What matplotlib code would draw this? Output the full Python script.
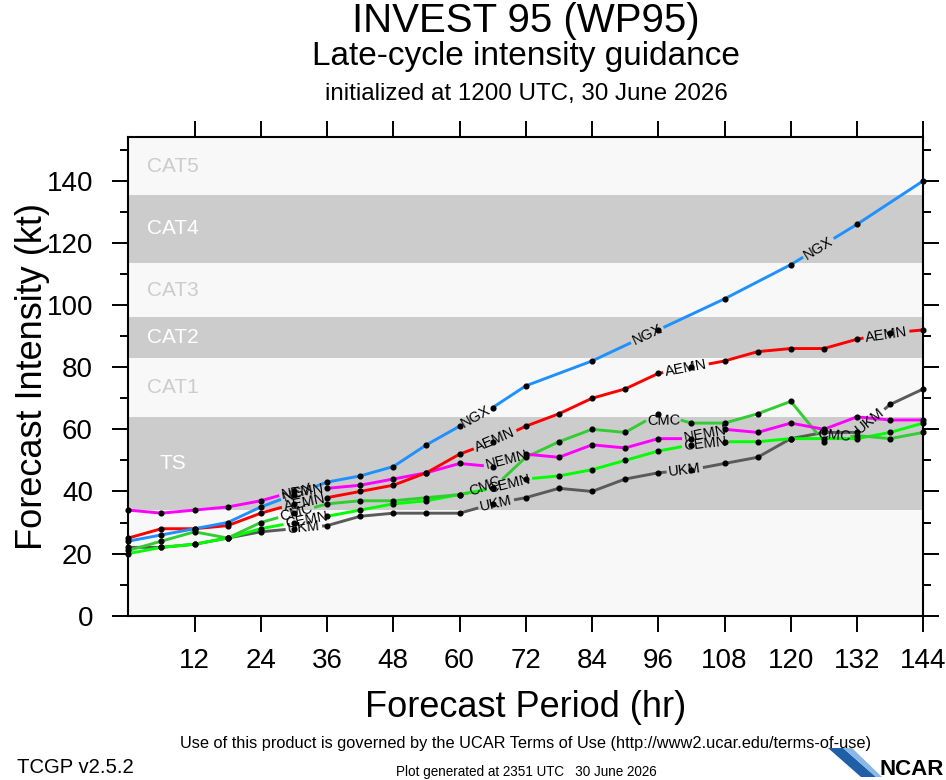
import matplotlib
matplotlib.use('Agg')
import matplotlib.pyplot as plt
from matplotlib.patches import Polygon
import numpy as np

plt.rcParams['font.family'] = ['Liberation Sans', 'DejaVu Sans']

# forecast hours and model intensities (kt)
hours = np.arange(0, 145, 6)
nan = np.nan
ngx = [24, 26, 28, 30, 35, 39, 43, 45, 48, 55, 61, 67, 74, nan, 82, nan, 92, nan, 102, nan, 113, nan, 126, nan, 140]
aemn = [25, 28, 28, 29, 33, 36, 38, 40, 42, 46, 52, 56, 61, 65, 70, 73, 78, 80, 82, 85, 86, 86, 89, 91, 92]
cmc = [21, 24, 27, 25, 30, 33, 36, 37, 37, 38, 39, 41, 51, 56, 60, 59, 65, 62, 62, 65, 69, 56, 58, 57, 59]
nemn = [34, 33, 34, 35, 37, 40, 41, 42, 44, 46, 49, 48, 52, 51, 55, 54, 57, 57, 60, 59, 62, 60, 64, 63, 63]
cemn = [20, 22, 23, 25, 28, 30, 32, 34, 36, 37, 39, 41, 44, 45, 47, 50, 53, 55, 56, 56, 57, 57, 57, 59, 62]
ukm = [22, 22, 23, 25, 27, 28, 29, 32, 33, 33, 33, 36, 38, 41, 40, 44, 46, 47, 49, 51, 57, 59, 59, 68, 73]

models = ['UKM', 'CEMN', 'CMC', 'NEMN', 'AEMN', 'NGX']  # drawing order
model_vals = {'NGX': ngx, 'AEMN': aemn, 'CMC': cmc, 'NEMN': nemn, 'CEMN': cemn, 'UKM': ukm}
colors = {'NGX': '#1e90ff', 'AEMN': '#ff0000', 'CMC': '#33cc33',
          'NEMN': '#ff00ff', 'CEMN': '#00ff00', 'UKM': '#5a5a5a'}
# hours where the in-line labels sit
label_hrs = {'NGX': [30.7, 63, 94, 125], 'AEMN': [31.9, 66.5, 101, 137.3],
             'CMC': [30.4, 65, 96.8, 127.5], 'NEMN': [31.5, 68.5, 104.5],
             'CEMN': [32.3, 69, 104.5], 'UKM': [31.8, 66.6, 100.8, 134.4]}

band_edges = [0, 34, 64, 83, 96, 113.5, 135.5, 154]
band_names = ['', 'TS', 'CAT1', 'CAT2', 'CAT3', 'CAT4', 'CAT5']

W, H = 946, 780
fig = plt.figure(figsize=(W / 100, H / 100), dpi=100)
ax = fig.add_axes([128.3 / W, 1 - 615.7 / H, 795 / W, 478.4 / H])
ax.set_xlim(0, 144)
ax.set_ylim(0, 154)

for i, name in enumerate(band_names):
    lo, hi = band_edges[i], band_edges[i + 1]
    dark = i % 2 == 1
    ax.axhspan(lo, hi, color='#cccccc' if dark else '#f8f8f8', lw=0, zorder=0)
    if name:
        ax.text(8, (lo + hi) / 2, name, color='white' if dark else '#cccccc',
                fontsize=15, ha='center', va='center', zorder=1)

renderer = fig.canvas.get_renderer()
to_pix = ax.transData
to_dat = ax.transData.inverted()


def along(pts, s, d):
    # point at arc length d on the pixel path
    return np.array([np.interp(d, s, pts[:, 0]), np.interp(d, s, pts[:, 1])])


for name in models:
    v = np.array(model_vals[name], float)
    ok = ~np.isnan(v)
    x, y = hours[ok], v[ok]
    pts = to_pix.transform(np.column_stack([x, y]))
    s = np.concatenate([[0], np.cumsum(np.hypot(*np.diff(pts, axis=0).T))])

    cuts = []
    for hc in label_hrs[name]:
        t = ax.text(0, 0, name, fontsize=10.5, ha='center', va='center',
                    rotation_mode='anchor', zorder=6, clip_on=False)
        w = t.get_window_extent(renderer).width
        sc = np.interp(hc, x, s)
        a, b = sc - w / 2 - 2, sc + w / 2 + 2
        p1, p2 = along(pts, s, a), along(pts, s, b)
        ang = np.degrees(np.arctan2(p2[1] - p1[1], p2[0] - p1[0]))
        t.set_position(to_dat.transform((p1 + p2) / 2))
        t.set_rotation(ang)
        cuts += [a, b]

    edges = [0] + cuts + [s[-1]]
    for a, b in zip(edges[::2], edges[1::2]):
        inner = pts[(s > a) & (s < b)]
        piece = to_dat.transform(np.vstack([along(pts, s, a), inner, along(pts, s, b)]))
        ax.plot(piece[:, 0], piece[:, 1], color=colors[name], lw=2.1,
                clip_on=False, zorder=3, solid_capstyle='butt')
    ax.plot(x, y, 'o', color='black', ms=3.4, clip_on=False, zorder=5)

ax.set_xticks(np.arange(12, 145, 12))
ax.set_yticks(np.arange(0, 141, 20))
ax.set_yticks(np.arange(10, 151, 20), minor=True)
ax.tick_params(which='both', direction='out', top=True, right=True, width=1.4, color='black')
ax.tick_params(which='major', length=11.5, labelsize=20)
ax.tick_params(which='minor', length=5.8)
ax.tick_params(axis='x', pad=12)
ax.tick_params(axis='y', pad=14)
for sp in ax.spines.values():
    sp.set_linewidth(1.5)

cx = 526 / W
fig.text(cx, 1 - 32 / H, 'INVEST 95 (WP95)', fontsize=29, ha='center', va='baseline')
fig.text(cx, 1 - 65 / H, 'Late-cycle intensity guidance', fontsize=24, ha='center', va='baseline')
fig.text(cx, 1 - 100 / H, 'initialized at 1200 UTC, 30 June 2026', fontsize=17.4,
         ha='center', va='baseline')

fig.text(cx, 1 - 717 / H, 'Forecast Period (hr)', fontsize=26, ha='center', va='baseline')
fig.text(32 / W, 1 - 376 / H, 'Forecast Intensity (kt)', fontsize=26, rotation=90,
         ha='center', va='center')


def fit(t, width_px):
    w = t.get_window_extent(renderer).width
    t.set_fontsize(t.get_fontsize() * width_px / w)


fit(fig.text(cx, 1 - 748 / H,
             'Use of this product is governed by the UCAR Terms of Use (http://www2.ucar.edu/terms-of-use)',
             fontsize=11, ha='center', va='baseline'), 691)
fit(fig.text(17 / W, 1 - 773 / H, 'TCGP v2.5.2', fontsize=14, ha='left', va='baseline'), 117)
fit(fig.text(526.5 / W, 1 - 776 / H, 'Plot generated at 2351 UTC   30 June 2026',
             fontsize=10, ha='center', va='baseline'), 263)

# NCAR logo (simplified)
sw1 = [(828, 748), (843, 748), (876, 777), (861, 777)]
sw2 = [(843, 748), (852, 748), (882, 777), (876, 777)]
for poly, col in [(sw1, '#1f5fa8'), (sw2, '#8ab8e6')]:
    fig.patches.append(Polygon([(px / W, 1 - py / H) for px, py in poly], closed=True,
                               transform=fig.transFigure, color=col, lw=0))
fig.text(944 / W, 1 - 775 / H, 'NCAR', fontsize=16, fontweight='bold', ha='right', va='baseline')

fig.savefig('out.png', dpi=100)
